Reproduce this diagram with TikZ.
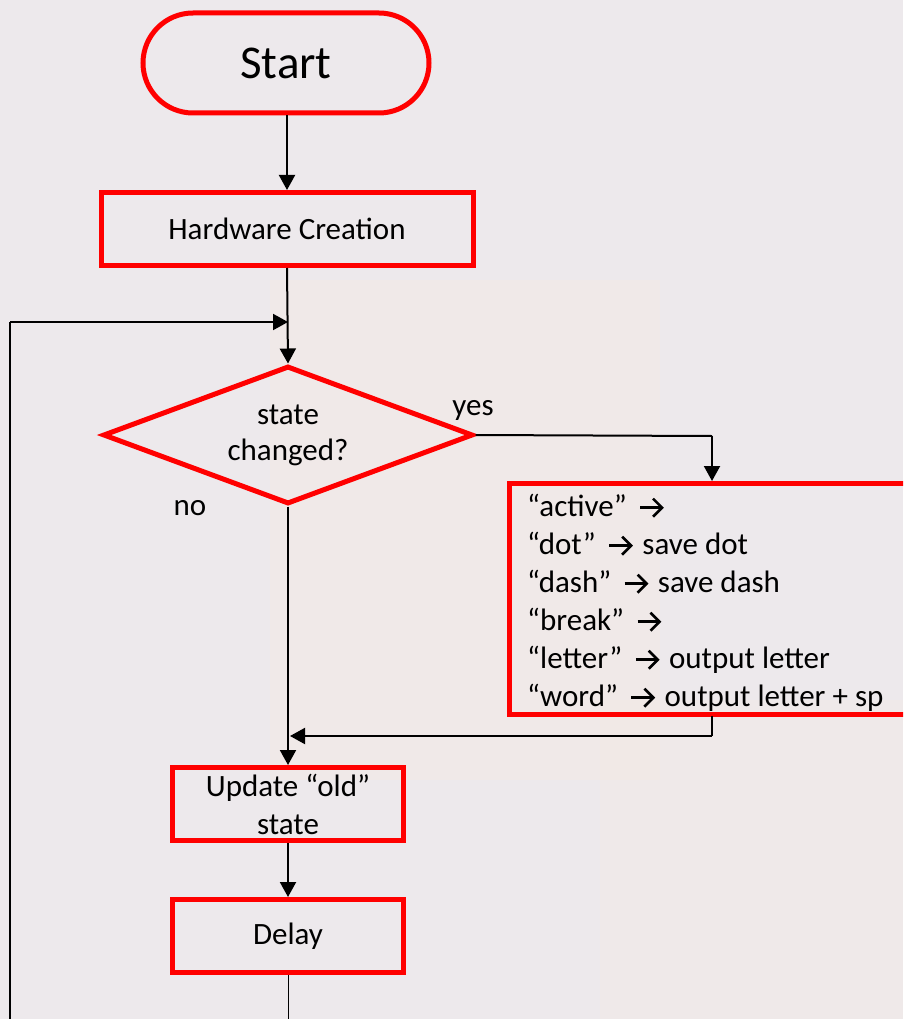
\documentclass[tikz,border=0pt]{standalone}
\usepackage{fontspec}
\setmainfont{Carlito}
\usetikzlibrary{arrows.meta,shapes.geometric}
\definecolor{bgcol}{RGB}{237,233,236}
\definecolor{peach}{RGB}{245,235,228}
\definecolor{boxred}{RGB}{255,0,0}
\tikzset{
  redbox/.style={draw=boxred, line width=5pt, rectangle, inner sep=0pt, align=center},
  flowarrow/.style={draw=black, line width=2pt, -{Triangle[length=15pt,width=16pt]}},
  flowline/.style={draw=black, line width=2pt},
  txt/.style={font=\fontsize{31}{38}\selectfont}
}
\newcommand{\rarr}{\hspace{5pt}\tikz[baseline=-9pt, x=1pt, y=1pt, line width=2.6pt, line cap=butt, line join=miter]{\draw[black] (0,0) -- (21,0); \draw[black] (13,-9) -- (22,0) -- (13,9);}\hspace{3pt}}
\begin{document}
\begin{tikzpicture}[x=1pt,y=-1pt]
\useasboundingbox (0,0) rectangle (903,1019);
\clip (0,0) rectangle (903,1019);
% faint background
\fill[bgcol] (0,0) rectangle (903,1019);
\fill[peach,opacity=0.45] (270,280) rectangle (660,780);
\fill[peach,opacity=0.3] (600,700) rectangle (903,1019);
% nodes
\node[redbox, rounded corners=50pt, minimum width=286pt, minimum height=100pt, font=\fontsize{47}{50}\selectfont] (start) at (286,63) {Start};
\node[redbox, minimum width=372pt, minimum height=73pt, txt] (hw) at (287,229) {Hardware Creation};
\node[diamond, draw=boxred, line width=5pt, inner sep=0pt, aspect=2.7, minimum width=370pt, minimum height=138pt, align=center, font=\fontsize{31}{36}\selectfont] (dec) at (288,435) {state\\changed?};
\node[redbox, minimum width=420pt, minimum height=231pt] (act) at (719.5,599) {};
\node[txt, anchor=west, align=left, inner sep=0pt] (acttxt) at (527,603) {“active” \rarr\\“dot” \rarr\ save dot\\“dash” \rarr\ save dash\\“break” \rarr\\“letter” \rarr\ output letter\\“word” \rarr\ output letter + sp};
\node[redbox, minimum width=231pt, minimum height=73pt, txt] (upd) at (288,804) {Update “old”\\state};
\node[redbox, minimum width=231pt, minimum height=73pt, txt] (dly) at (288,936) {Delay};
\node[txt] (yes) at (473,410) {yes};
\node[txt] (no) at (190,508) {no};
% coordinates
\coordinate (loopbot) at (10,1025);
\coordinate (loopcorner) at (10,322);
\coordinate (loopin) at (288,322);
\coordinate (yescorner) at (712,436);
\coordinate (actbot) at (712,716);
\coordinate (backcorner) at (712,736);
\coordinate (backin) at (290,736);
\coordinate (dlybot) at (288,1025);
% connectors
\draw[flowarrow] (start.south -| hw.north) -- (hw.north);
\draw[flowarrow] (hw.south) -- (dec.north);
\draw[flowline] (loopbot) -- (loopcorner);
\draw[flowarrow] (loopcorner) -- (loopin);
\draw[flowline] (dec.east) -- (yescorner);
\draw[flowarrow] (yescorner) -- (yescorner |- act.north);
\draw[flowarrow] (dec.south) -- (upd.north);
\draw[flowline] (actbot) -- (backcorner);
\draw[flowarrow] (backcorner) -- (backin);
\draw[flowarrow] (upd.south) -- (dly.north);
\draw[black, line width=1pt] (dly.south) -- (dlybot);
\end{tikzpicture}
\end{document}
